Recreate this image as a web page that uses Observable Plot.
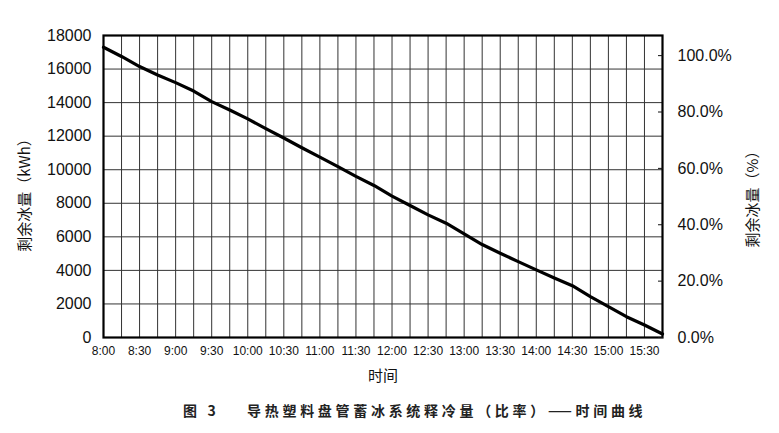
<!DOCTYPE html>
<html>
<head>
<meta charset="utf-8">
<script src="https://cdn.jsdelivr.net/npm/d3@7"></script>
<script src="https://cdn.jsdelivr.net/npm/@observablehq/plot@0.6"></script>
<style>
  html, body { margin: 0; padding: 0; background: #fff; }
  #wrap { position: relative; width: 779px; height: 433px; }
  #caption {
    position: absolute; left: 183px; top: 400px; white-space: pre;
    font-family: "Noto Sans CJK SC", sans-serif; font-size: 14px; font-weight: 700;
    color: #222; letter-spacing: 3.7px;
  }
</style>
</head>
<body>
<div id="wrap"><div id="chart"></div><div id="caption">图 3    导热塑料盘管蓄冰系统释冷量（比率）——时间曲线</div></div>
<script>
// Time points (every 15 minutes)
const times = ["8:00","8:15","8:30","8:45","9:00","9:15","9:30","9:45",
  "10:00","10:15","10:30","10:45","11:00","11:15","11:30","11:45",
  "12:00","12:15","12:30","12:45","13:00","13:15","13:30","13:45",
  "14:00","14:15","14:30","14:45","15:00","15:15","15:30","15:45"];
// Remaining ice (kWh)
const iceKWh = [17300,16750,16150,15650,15190,14690,14060,13560,
  13030,12450,11890,11310,10750,10180,9600,9060,
  8430,7870,7310,6810,6180,5540,5020,4525,
  4030,3550,3090,2435,1840,1240,745,210];
// Tick labels
const xTickLabels = ["8:00","8:30","9:00","9:30","10:00","10:30","11:00","11:30",
  "12:00","12:30","13:00","13:30","14:00","14:30","15:00","15:30"];
const leftTicks = [0,2000,4000,6000,8000,10000,12000,14000,16000,18000];
const rightTicksPct = [0,20,40,60,80,100];
const kWhAt100Pct = 16800; // position of 100.0% on the left scale
const xTitle = "时间";
const leftTitle = "剩余冰量（kWh）";
const rightTitle = "剩余冰量（%）";

const toDate = s => { const [h, m] = s.split(":").map(Number); return new Date(Date.UTC(2000, 0, 1, h, m)); };
const data = times.map((t, i) => ({t: toDate(t), v: iceKWh[i]}));
const gridX = times.map(toDate);
const labelX = xTickLabels.map(toDate);
const fmtTime = d => `${d.getUTCHours()}:${String(d.getUTCMinutes()).padStart(2, "0")}`;
const rightPos = rightTicksPct.map(p => p * kWhAt100Pct / 100);

const chart = Plot.plot({
  width: 779,
  height: 395,
  marginLeft: 103,
  marginRight: 117,
  marginTop: 35,
  marginBottom: 58,
  style: {fontFamily: "'Liberation Sans', 'Noto Sans CJK SC', sans-serif", color: "#111", background: "#fff"},
  x: {type: "utc", domain: [toDate("8:00"), toDate("15:45")]},
  y: {domain: [0, 18000]},
  marks: [
    Plot.ruleX(gridX, {stroke: "#333", strokeWidth: 1}),
    Plot.ruleY(leftTicks, {stroke: "#333", strokeWidth: 1}),
    Plot.line(data, {x: "t", y: "v", stroke: "#000", strokeWidth: 3.2}),
    Plot.frame({stroke: "#000", strokeWidth: 2.2}),
    Plot.axisX(labelX, {anchor: "bottom", tickSize: 0, tickPadding: 9, fontSize: 12, tickFormat: fmtTime, label: null}),
    Plot.axisY(leftTicks, {anchor: "left", tickSize: 0, tickPadding: 12, fontSize: 16, tickFormat: d => String(d), label: null}),
    Plot.axisY(rightPos, {anchor: "right", tickSize: -5, tickPadding: 20, fontSize: 16,
      tickFormat: d => (d / kWhAt100Pct * 100).toFixed(1) + "%", label: null}),
    Plot.text([xTitle], {text: d => d, frameAnchor: "bottom", textAnchor: "middle", dy: 43, fontSize: 15,
      fontFamily: "'Noto Sans CJK SC', sans-serif"}),
    Plot.text([leftTitle], {text: d => d, frameAnchor: "left", textAnchor: "middle", dx: -78, dy: 5, rotate: -90, fontSize: 15,
      fontFamily: "'Noto Sans CJK SC', sans-serif"}),
    Plot.text([rightTitle], {text: d => d, frameAnchor: "right", textAnchor: "middle", dx: 91, dy: 9, rotate: -90, fontSize: 15,
      fontFamily: "'Noto Sans CJK SC', sans-serif"})
  ]
});
document.getElementById("chart").appendChild(chart);
</script>
</body>
</html>
